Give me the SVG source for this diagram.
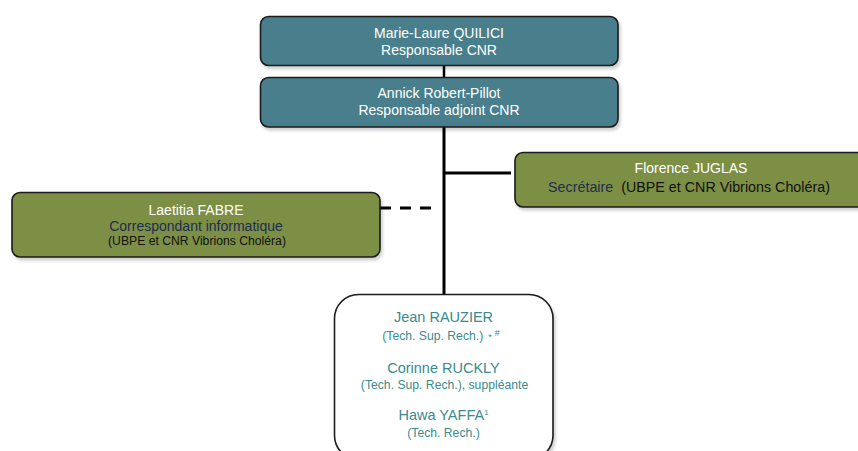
<svg xmlns="http://www.w3.org/2000/svg" width="858" height="451" viewBox="0 0 858 451">
<defs>
<filter id="sh" x="-10%" y="-20%" width="130%" height="150%">
<feDropShadow dx="2" dy="3" stdDeviation="1.5" flood-color="#000" flood-opacity="0.18"/>
</filter>
<style>
text{font-family:"Liberation Sans",Arial,sans-serif;text-anchor:middle}
.teal{fill:#4a7f8c;stroke:#1a1a1a;stroke-width:1.6}
.olive{fill:#7b8f45;stroke:#1a1a1a;stroke-width:1.6}
.white{fill:#ffffff;stroke:#1a1a1a;stroke-width:1.6}
.w{fill:#ffffff;font-size:14px}
.navy{fill:#1f2d4f}
.blk{fill:#111}
.tl{fill:#3a8a8e}
.conn{stroke:#000;fill:none}
</style>
</defs>
<rect width="858" height="451" fill="#ffffff"/>
<g id="connectors">
<line class="conn" x1="444" y1="65" x2="444" y2="78" stroke-width="2.5"/>
<line class="conn" x1="444" y1="127" x2="444" y2="295" stroke-width="3"/>
<line class="conn" x1="444" y1="173" x2="511" y2="173" stroke-width="3"/>
<line class="conn" x1="380" y1="208" x2="436" y2="208" stroke-width="3" stroke-dasharray="11,9"/>
</g>
<g id="n1">
<rect class="teal" x="260.5" y="16.5" width="357.5" height="49" rx="8" filter="url(#sh)"/>
<text class="w" x="439" y="38">Marie-Laure QUILICI</text>
<text class="w" x="439" y="55">Responsable CNR</text>
</g>
<g id="n2">
<rect class="teal" x="260.5" y="77.5" width="357.5" height="49.5" rx="8" filter="url(#sh)"/>
<text class="w" x="439" y="98">Annick Robert-Pillot</text>
<text class="w" x="439" y="115">Responsable adjoint CNR</text>
</g>
<g id="n3">
<rect class="olive" x="515" y="152.5" width="360" height="54.5" rx="8" filter="url(#sh)"/>
<text class="w" x="691" y="173">Florence JUGLAS</text>
<text x="689" y="192" font-size="14.3"><tspan class="navy">Secrétaire</tspan><tspan class="blk" dx="4"> (UBPE et CNR Vibrions Choléra)</tspan></text>
</g>
<g id="n4">
<rect class="olive" x="12" y="192.5" width="368" height="64.5" rx="8" filter="url(#sh)"/>
<text class="w" x="196" y="215">Laetitia FABRE</text>
<text class="navy" x="196" y="231" font-size="14">Correspondant informatique</text>
<text class="blk" x="197" y="245" font-size="12.2">(UBPE et CNR Vibrions Choléra)</text>
</g>
<g id="n5">
<rect class="white" x="334.5" y="294.5" width="218.5" height="165" rx="24" filter="url(#sh)"/>
<text class="tl" x="443.5" y="322" font-size="14.5">Jean RAUZIER</text>
<text class="tl" x="441" y="340" font-size="12.2">(Tech. Sup. Rech.)<tspan font-size="9" dx="5">*</tspan><tspan font-size="9" dx="3" dy="-4">#</tspan></text>
<text class="tl" x="443.5" y="373" font-size="14.5">Corinne RUCKLY</text>
<text class="tl" x="444.5" y="389" font-size="12.2">(Tech. Sup. Rech.), suppléante</text>
<text class="tl" x="443.5" y="420" font-size="14.5">Hawa YAFFA<tspan font-size="8" dy="-5">1</tspan></text>
<text class="tl" x="443.5" y="437" font-size="12.2">(Tech. Rech.)</text>
</g>
</svg>
